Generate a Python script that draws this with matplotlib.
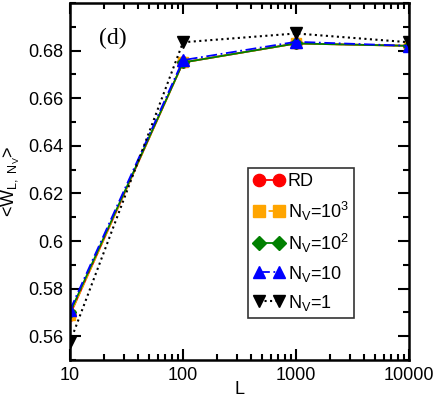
import numpy as np
import matplotlib
matplotlib.use('Agg')
import matplotlib.pyplot as plt
from matplotlib.ticker import LogLocator, MultipleLocator, NullFormatter, FixedFormatter, FixedLocator

plt.rcParams['font.family'] = ['Liberation Sans', 'DejaVu Sans']
plt.rcParams['mathtext.fontset'] = 'custom'
plt.rcParams['mathtext.rm'] = 'Liberation Sans'
plt.rcParams['mathtext.it'] = 'Liberation Sans'

L = [10, 100, 1000, 10000]
w_rd = [0.569, 0.675, 0.683, 0.682]
w_nv1000 = [0.569, 0.675, 0.683, 0.682]
w_nv100 = [0.570, 0.675, 0.683, 0.682]
w_nv10 = [0.571, 0.676, 0.6837, 0.682]
w_nv1 = [0.5575, 0.6835, 0.6872, 0.6835]

fig = plt.figure(figsize=(4.36, 3.98), dpi=100)
ax = fig.add_axes([70/436, 1-360/398, (409-70)/436, (360-3)/398])

ax.plot(L, w_rd, color='red', ls='-', lw=1.3, marker='o', ms=8, label='RD')
ax.plot(L, w_nv1000, color='orange', ls='--', lw=1.3, marker='s', ms=7.5, label=r'N$_\mathregular{V}$=10$^\mathregular{3}$')
ax.plot(L, w_nv100, color='green', ls='-', lw=1.3, marker='D', ms=6.5, label=r'N$_\mathregular{V}$=10$^\mathregular{2}$')
ax.plot(L, w_nv10, color='blue', ls=(0, (6, 2, 1, 2)), lw=1.3, marker='^', ms=8.5, label=r'N$_\mathregular{V}$=10')
ax.plot(L, w_nv1, color='black', ls=':', lw=1.5, marker='v', ms=8.5, label=r'N$_\mathregular{V}$=1')

ax.set_xscale('log')
ax.set_xlim(10, 10000)
ax.set_ylim(0.55, 0.70)
ax.xaxis.set_major_locator(FixedLocator(L))
ax.xaxis.set_major_formatter(FixedFormatter(['10', '100', '1000', '10000']))
ax.xaxis.set_minor_locator(LogLocator(base=10, subs=np.arange(2, 10)))
ax.xaxis.set_minor_formatter(NullFormatter())
ax.yaxis.set_major_locator(FixedLocator([0.56, 0.58, 0.60, 0.62, 0.64, 0.66, 0.68]))
ax.yaxis.set_major_formatter(FixedFormatter(['0.56', '0.58', '0.6', '0.62', '0.64', '0.66', '0.68']))
ax.yaxis.set_minor_locator(MultipleLocator(0.01))

ax.tick_params(which='both', direction='in', top=True, right=True, width=1.5, labelsize=13)
ax.tick_params(which='major', length=8, pad=5)
ax.tick_params(which='minor', length=4.5)
for s in ax.spines.values():
    s.set_linewidth(1.8)

ax.set_xlabel('L', fontsize=13, labelpad=-2)
ax.set_ylabel(r'<W$_\mathregular{L,\ N_V}$>', fontsize=13, labelpad=4)
ax.text(0.085, 0.9, '(d)', transform=ax.transAxes, fontsize=17, family='Liberation Serif', va='center')

leg = ax.legend(loc='upper left', bbox_to_anchor=((248-70)/339, 1-(168-3)/357), fontsize=13,
                numpoints=2, handlelength=1.7, handletextpad=0.2, labelspacing=0.5, borderpad=0.3,
                borderaxespad=0, frameon=True, fancybox=False, edgecolor='black', markerscale=1.1)
leg.get_frame().set_linewidth(1.2)

fig.savefig('out.png', dpi=100)
